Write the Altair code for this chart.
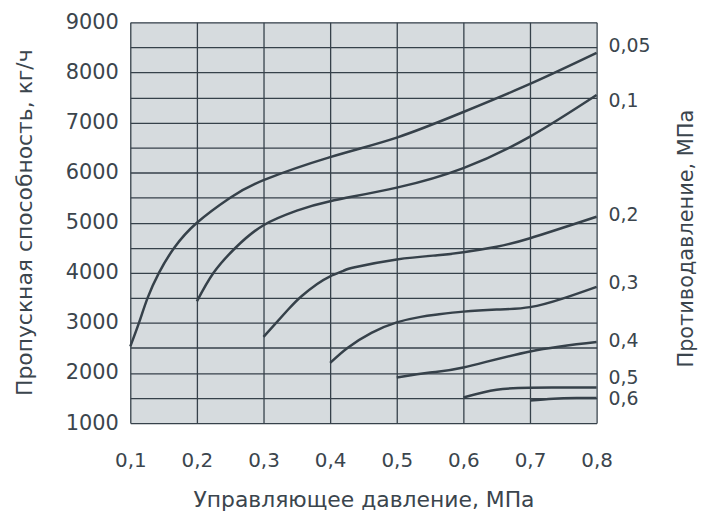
import altair as alt
import pandas as pd

# Back-pressure series names (MPa)
series_names = ["0,05", "0,1", "0,2", "0,3", "0,4", "0,5", "0,6"]

# Control pressure (MPa) and capacity (kg/h)
x_005 = [0.1, 0.113, 0.126, 0.143, 0.166, 0.2, 0.25, 0.3, 0.4, 0.5, 0.6, 0.7, 0.8]
y_005 = [2530, 3000, 3500, 4000, 4500, 5000, 5500, 5850, 6310, 6700, 7210, 7770, 8390]

x_01 = [0.2, 0.225, 0.258, 0.3, 0.35, 0.4, 0.5, 0.6, 0.7, 0.8]
y_01 = [3430, 4000, 4500, 4950, 5240, 5430, 5700, 6090, 6720, 7550]

x_02 = [0.3, 0.337, 0.357, 0.38, 0.4, 0.42, 0.437, 0.5, 0.561, 0.6, 0.65, 0.7, 0.8]
y_02 = [2720, 3267, 3533, 3770, 3930, 4040, 4110, 4266, 4350, 4410, 4520, 4690, 5120]

x_03 = [0.4, 0.426, 0.462, 0.5, 0.536, 0.561, 0.6, 0.65, 0.7, 0.75, 0.8]
y_03 = [2200, 2500, 2800, 3010, 3120, 3167, 3225, 3265, 3315, 3490, 3720]

x_04 = [0.5, 0.55, 0.6, 0.7, 0.8]
y_04 = [1910, 2010, 2110, 2430, 2620]

x_05 = [0.6, 0.65, 0.7, 0.75, 0.8]
y_05 = [1510, 1665, 1705, 1710, 1710]

x_06 = [0.7, 0.735, 0.77, 0.8]
y_06 = [1450, 1487, 1498, 1500]

# Positions (in kg/h) of the right-hand series labels
label_y = [8524, 7433, 5151, 3802, 2631, 1900, 1480]

x_ticks = [0.1, 0.2, 0.3, 0.4, 0.5, 0.6, 0.7, 0.8]
y_grid = list(range(1000, 9001, 500))

FONT = "DejaVu Sans"
TXT = "#3b454d"
INK = "#36414a"

rows = []
for name, xs, ys in zip(series_names,
                        [x_005, x_01, x_02, x_03, x_04, x_05, x_06],
                        [y_005, y_01, y_02, y_03, y_04, y_05, y_06]):
    for i, (xv, yv) in enumerate(zip(xs, ys)):
        rows.append({"series": name, "p": xv, "q": yv, "order": i})
df = pd.DataFrame(rows)

lab_df = pd.DataFrame({"series": series_names,
                       "p": [0.8] * len(series_names),
                       "q": label_y})

xscale = alt.Scale(domain=[0.1, 0.8], nice=False, zero=False)

x_axis = alt.Axis(
    values=x_ticks,
    labelExpr="replace(format(datum.value, '.1f'), '.', ',')",
    title="Управляющее давление, МПа",
    grid=True, ticks=False, domain=False, labelFlush=False,
    labelPadding=28, labelFontSize=20, labelFont=FONT, labelColor=TXT,
    titleFontSize=22, titleFont=FONT, titleColor=TXT, titleFontWeight="normal",
    titleY=77, titleBaseline="middle",
    gridColor=INK, gridWidth=1.3, gridOpacity=1,
)

lines = alt.Chart(df).mark_line(
    color=INK, strokeWidth=2.5, interpolate="natural"
).encode(
    x=alt.X("p:Q", scale=xscale, axis=x_axis),
    y=alt.Y("q:Q", scale=alt.Scale(domain=[1000, 9000], nice=False, zero=False),
            axis=alt.Axis(
                values=y_grid,
                labelExpr="datum.value % 1000 == 0 ? format(datum.value, 'd') : ''",
                title="Пропускная способность, кг/ч",
                grid=True, ticks=False, domain=False, labelFlush=False,
                labelPadding=12, labelFontSize=21, labelFont=FONT, labelColor=TXT,
                labelBaseline="middle",
                titleFontSize=22, titleFont=FONT, titleColor=TXT, titleFontWeight="normal",
                titleX=-106, titleY=201, titleAngle=270, titleBaseline="middle",
                gridColor=INK, gridWidth=1.3, gridOpacity=1,
            )),
    detail="series:N",
    order="order:Q",
)

labels = alt.Chart(lab_df).mark_text(
    align="left", baseline="middle", dx=12, fontSize=19, font=FONT, color=TXT
).encode(
    x=alt.X("p:Q", scale=xscale, axis=x_axis),
    y=alt.Y("q:Q", scale=alt.Scale(domain=[1000, 9000], nice=False, zero=False),
            axis=alt.Axis(
                orient="right", labels=False, ticks=False, domain=False, grid=False,
                title="Противодавление, МПа",
                titleFontSize=21, titleFont=FONT, titleColor=TXT, titleFontWeight="normal",
                titleAngle=270, titleX=90, titleY=217, titleBaseline="middle",
            )),
    text="series:N",
)

chart = alt.layer(lines, labels).resolve_scale(y="independent").properties(
    width=469, height=403,
    autosize=alt.AutoSizeParams(type="none"),
    padding={"left": 123, "top": 13, "right": 104, "bottom": 87},
    background="#ffffff",
).configure_view(fill="#d6dbde", stroke=None)

chart.save("out.html", embed_options={"renderer": "svg", "actions": False})
